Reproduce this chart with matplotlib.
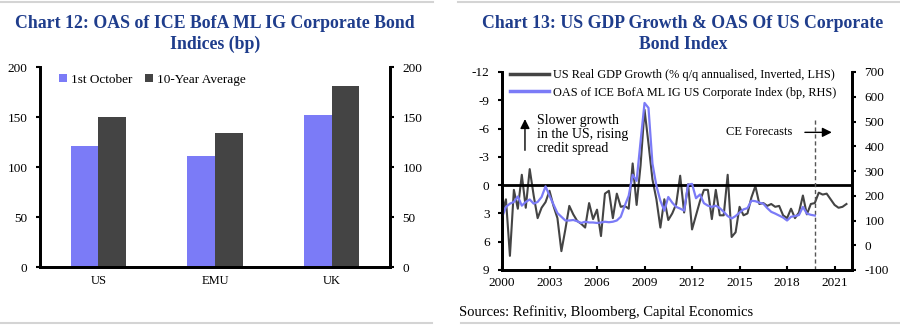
import numpy as np
import matplotlib
matplotlib.use('Agg')
import matplotlib.pyplot as plt
from matplotlib.lines import Line2D

plt.rcParams['font.family'] = ['Liberation Serif', 'DejaVu Serif']
plt.rcParams['axes.unicode_minus'] = False

# ---- Chart 12 data: OAS by region (bp)
regions = ['US', 'EMU', 'UK']
oas_oct1 = [121, 111, 152]
oas_10yr = [150, 134, 181]

# ---- Chart 13 data: quarterly, first point at 2000.0, one per quarter end
gdp_growth = [3.0,
              1.5, 7.5, 0.5, 2.5,
              -1.1, 2.4, -1.7, 1.1,
              3.5, 2.4, 1.8, 0.6,
              2.2, 3.5, 7.0, 4.7,
              2.2, 3.1, 3.8, 4.1,
              4.5, 1.9, 3.6, 2.6,
              5.4, 0.9, 0.6, 3.5,
              0.9, 2.3, 2.2, 2.5,
              -2.3, 2.1, -2.1, -8.0,
              -4.4, -0.6, 1.5, 4.5,
              1.5, 3.7, 3.0, 2.0,
              -1.0, 2.9, -0.1, 4.7,
              3.2, 1.7, 0.5, 0.5,
              3.6, 0.5, 3.2, 3.2,
              -1.1, 5.5, 5.0, 2.3,
              3.2, 3.0, 1.3, 0.1,
              2.0, 1.9, 2.2, 2.0,
              2.3, 2.2, 3.2, 3.5,
              2.5, 3.5, 2.9, 1.1,
              3.1, 2.0, 1.9,
              # CE forecasts
              0.8, 1.0, 0.9, 1.5, 2.1, 2.4, 2.3, 2.0]

oas_us = [113, 155, 168, 175, 197, 160, 175, 185, 168, 175, 195, 238,
          200, 165, 130, 115, 100, 100, 102, 97, 90, 95, 92, 92,
          90, 92, 95, 93, 95, 100, 115, 160, 200, 285, 260, 420,
          575, 555, 330, 240, 180, 140, 195, 172, 155, 148, 140, 245,
          248, 190, 205, 170, 160, 155, 160, 150, 135, 118, 108, 118,
          132, 145, 150, 180, 178, 172, 168, 150, 135, 128, 120, 112,
          100, 115, 118, 122, 155, 128, 123, 120]

forecast_start = 2019.75
year_ticks = [2000, 2003, 2006, 2009, 2012, 2015, 2018, 2021]

navy = '#1f3d8c'
purple = '#7b7bf7'
dark = '#444444'

fig = plt.figure(figsize=(9, 3.33), dpi=100)

# ---------------- Chart 12 ----------------
ax1 = fig.add_axes([40/900, 66/333, 350/900, 200/333])
x = np.arange(len(regions))
w = 0.236
ax1.bar(x - w/2, oas_oct1, width=w, color=purple, label='1st October')
ax1.bar(x + w/2, oas_10yr, width=w, color=dark, label='10-Year Average')
ax1.set_xlim(-0.5, 2.5)
ax1.set_ylim(0, 200)
ax1.set_yticks(range(0, 201, 50))
ax1.set_xticks(x)
ax1.set_xticklabels(regions)
ax1.tick_params(axis='x', length=0, pad=6, labelsize=9)
ax1.tick_params(axis='y', direction='out', length=3, width=1.5, labelsize=9.5, pad=6)
ax1.spines['top'].set_visible(False)
for s in ['left', 'bottom', 'right']:
    ax1.spines[s].set_linewidth(2)
ax1r = ax1.twinx()
ax1r.set_ylim(0, 200)
ax1r.set_yticks(range(0, 201, 50))
ax1r.tick_params(axis='y', direction='out', length=3, width=1.5, labelsize=9.5, pad=6)
ax1r.spines['top'].set_visible(False)
for s in ['left', 'bottom', 'right']:
    ax1r.spines[s].set_linewidth(2)
ax1.legend(loc='upper left', bbox_to_anchor=(0.02, 1.025), ncol=2, frameon=False,
           fontsize=9.5, handlelength=0.6, handleheight=0.6, handletextpad=0.3,
           columnspacing=1.0)
fig.text(215/900, 1 - 34/333, 'Chart 12: OAS of ICE BofA ML IG Corporate Bond\nIndices (bp)',
         ha='center', va='center', fontsize=12.8, fontweight='bold', color=navy,
         linespacing=1.3)

# ---------------- Chart 13 ----------------
ax = fig.add_axes([502/900, 63/333, 350/900, 198/333])
t = 2000 + 0.25 * np.arange(len(gdp_growth))
t_oas = 2000 + 0.25 * np.arange(len(oas_us))
ax.plot(t, gdp_growth, color=dark, lw=1.5, label='US Real GDP Growth (% q/q annualised, Inverted, LHS)')
ax.axhline(0, color='black', lw=2)
ax.set_ylim(9, -12)
ax.set_yticks(range(-12, 10, 3))
ax.set_xlim(2000, 2022.1)
ax.set_xticks(year_ticks)
ax.tick_params(axis='x', direction='in', length=3, width=1.5, labelsize=9.5, pad=5)
ax.tick_params(axis='y', direction='out', length=3, width=1.5, labelsize=9.5, pad=6)
ax.spines['top'].set_visible(False)
for s in ['left', 'bottom', 'right']:
    ax.spines[s].set_linewidth(2)
ax.axvline(forecast_start, ymin=0, ymax=0.77, color='#555555', lw=1, ls=(0, (3, 2)))

ax2 = ax.twinx()
ax2.plot(t_oas, oas_us, color=purple, lw=1.6, label='OAS of ICE BofA ML IG US Corporate Index (bp, RHS)')
ax2.set_ylim(-100, 700)
ax2.set_yticks(range(-100, 701, 100))
ax2.tick_params(axis='y', direction='out', length=3, width=1.5, labelsize=9.5, pad=6)
ax2.spines['top'].set_visible(False)
for s in ['left', 'bottom', 'right']:
    ax2.spines[s].set_linewidth(2)

h1, l1 = ax.get_legend_handles_labels()
h2, l2 = ax2.get_legend_handles_labels()
leg = ax2.legend(h1 + h2, l1 + l2, loc='upper left', bbox_to_anchor=(8/350, 1.015),
                 borderpad=0, borderaxespad=0, frameon=False, fontsize=8.8,
                 handlelength=3.2, handletextpad=0.35, labelspacing=0.45)
for ln in leg.get_lines():
    ln.set_linewidth(2.5)

ax.annotate('', xy=(2001.45, -7.3), xytext=(2001.45, -3.4),
            arrowprops=dict(arrowstyle='-|>', color='black', lw=1, mutation_scale=14))
ax.text(2002.2, -5.35, 'Slower growth\nin the US, rising\ncredit spread',
        ha='left', va='center', fontsize=10, linespacing=1.1)
ax.text(2018.35, -5.6, 'CE Forecasts', ha='right', va='center', fontsize=9)
ax.annotate('', xy=(2021.0, -5.6), xytext=(2018.95, -5.6),
            arrowprops=dict(arrowstyle='-|>', color='black', lw=1, mutation_scale=14))

fig.text(683/900, 1 - 34/333, 'Chart 13: US GDP Growth & OAS Of US Corporate\nBond Index',
         ha='center', va='center', fontsize=12.8, fontweight='bold', color=navy,
         linespacing=1.3)
fig.text(459/900, 1 - 312/333, 'Sources: Refinitiv, Bloomberg, Capital Economics',
         ha='left', va='center', fontsize=10.5)

# panel separators
for x0, x1 in [(0, 433), (458, 900)]:
    fig.add_artist(Line2D([x0/900, x1/900], [1 - 2/333] * 2, color='#d4d4d4', lw=1.5))
for x0, x1 in [(0, 432), (461, 900)]:
    fig.add_artist(Line2D([x0/900, x1/900], [1 - 323/333] * 2, color='#d4d4d4', lw=1.5))

fig.savefig('out.png', dpi=100)
